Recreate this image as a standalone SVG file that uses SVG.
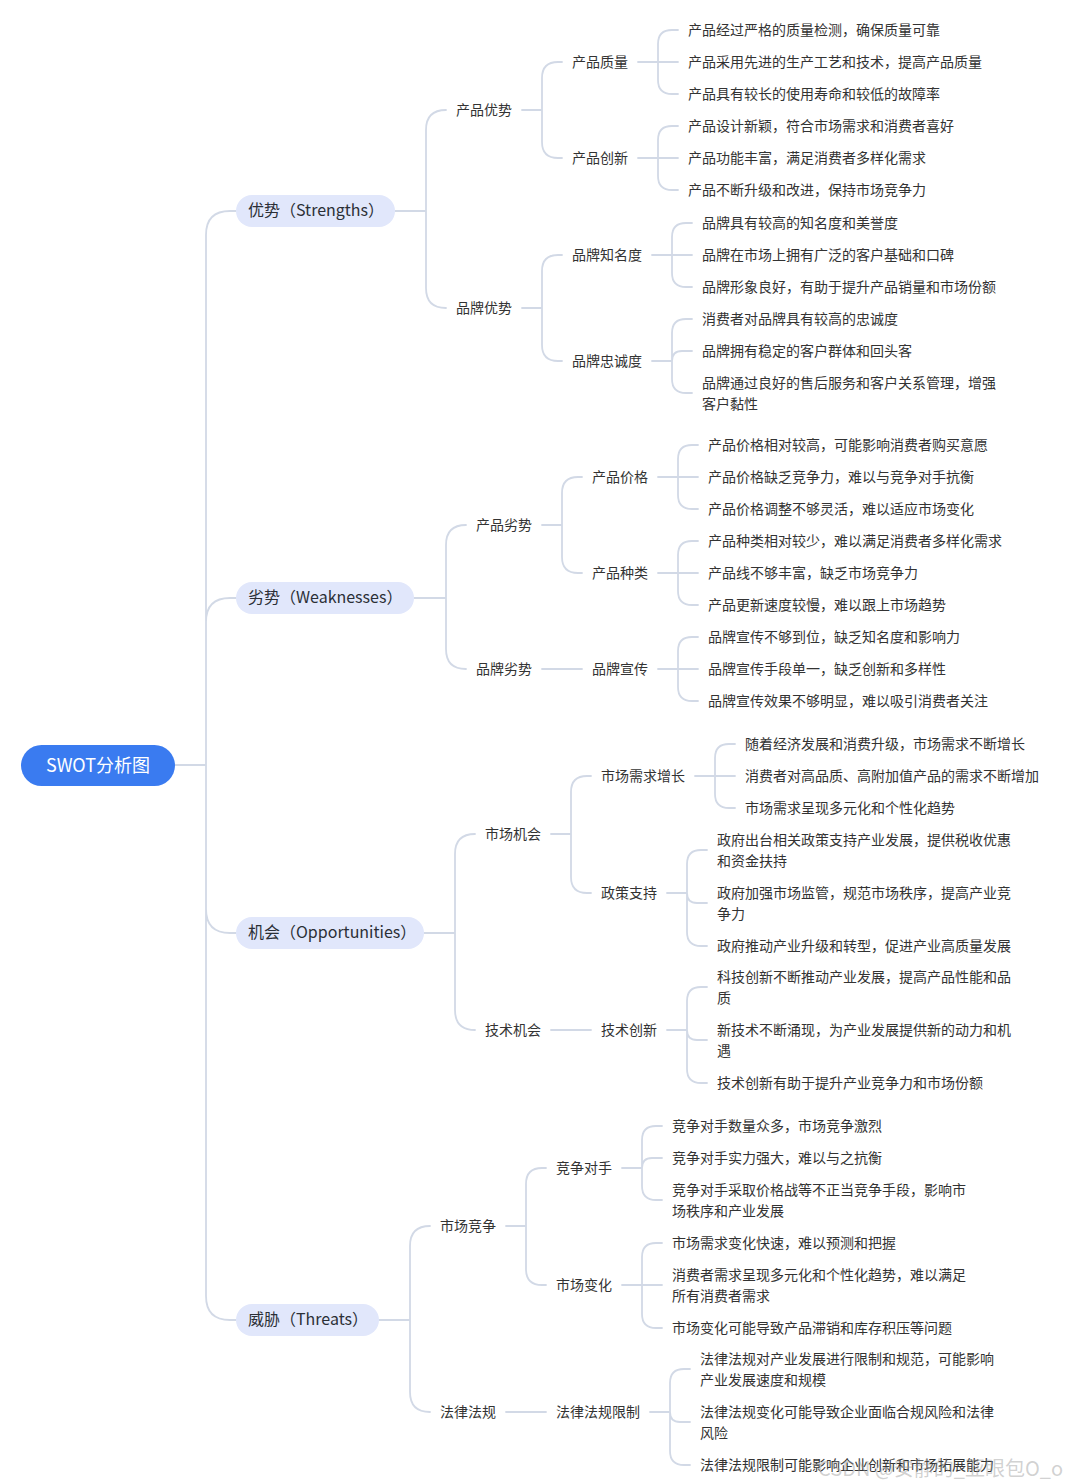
<svg xmlns="http://www.w3.org/2000/svg" width="1069" height="1484" viewBox="0 0 1069 1484">
<style>
text{font-family:"Noto Sans CJK SC","Noto Sans",sans-serif;dominant-baseline:central;fill:#333}
.t{font-size:14px}
.l1{font-size:16px;fill:#2b2f36}
.pill{fill:#e1e7fb}
.root{fill:#3a7bf0}
.rt{font-size:18px;fill:#fff;text-anchor:middle}
.c path{fill:none;stroke:#d2d9e6;stroke-width:1.8;stroke-linecap:round}
.wm{font-size:20px;fill:#999;fill-opacity:0.45}
</style>
<rect width="1069" height="1484" fill="#fff"/>
<g class="c" id="connectors">
<path d="M175 765H206M206 765V235Q206 211 230 211H236M206 765V622Q206 598 230 598H236M206 765V909Q206 933 230 933H236M206 765V1296Q206 1320 230 1320H236"/>
<path d="M395 211H426M426 211V130Q426 110 446 110M426 211V288Q426 308 446 308"/>
<path d="M522 110H542M542 110V78Q542 62 558 62H562M542 110V142Q542 158 558 158H562"/>
<path d="M638 62H658M658 62V44Q658 30 672 30H678M658 62H678M658 62V80Q658 94 672 94H678"/>
<path d="M638 158H658M658 158V140Q658 126 672 126H678M658 158H678M658 158V176Q658 190 672 190H678"/>
<path d="M522 308H542M542 308V271Q542 255 558 255H562M542 308V345Q542 361 558 361H562"/>
<path d="M652 255H672M672 255V237Q672 223 686 223H692M672 255H692M672 255V273Q672 287 686 287H692"/>
<path d="M652 361H672M672 361V333Q672 319 686 319H692M672 361Q672 351 682 351H692M672 361V379Q672 393 686 393H692"/>
<path d="M414 598H446M446 598V545Q446 525 466 525M446 598V649Q446 669 466 669"/>
<path d="M542 525H562M562 525V493Q562 477 578 477H582M562 525V557Q562 573 578 573H582"/>
<path d="M658 477H678M678 477V459Q678 445 692 445H698M678 477H698M678 477V495Q678 509 692 509H698"/>
<path d="M658 573H678M678 573V555Q678 541 692 541H698M678 573H698M678 573V591Q678 605 692 605H698"/>
<path d="M542 669H582"/>
<path d="M658 669H678M678 669V651Q678 637 692 637H698M678 669H698M678 669V687Q678 701 692 701H698"/>
<path d="M424 933H455M455 933V854Q455 834 475 834M455 933V1010Q455 1030 475 1030"/>
<path d="M551 834H571M571 834V792Q571 776 587 776H591M571 834V877Q571 893 587 893H591"/>
<path d="M695 776H715M715 776V758Q715 744 729 744H735M715 776H735M715 776V794Q715 808 729 808H735"/>
<path d="M667 893H687M687 893V864Q687 850 701 850H707M687 893Q687 903 697 903H707M687 893V932Q687 946 701 946H707"/>
<path d="M551 1030H591"/>
<path d="M667 1030H687M687 1030V1001Q687 987 701 987H707M687 1030Q687 1040 697 1040H707M687 1030V1069Q687 1083 701 1083H707"/>
<path d="M379 1320H410M410 1320V1246Q410 1226 430 1226M410 1320V1392Q410 1412 430 1412"/>
<path d="M506 1226H526M526 1226V1184Q526 1168 542 1168H546M526 1226V1269Q526 1285 542 1285H546"/>
<path d="M622 1168H642M642 1168V1140Q642 1126 656 1126H662M642 1168Q642 1158 652 1158H662M642 1168V1186Q642 1200 656 1200H662"/>
<path d="M622 1285H642M642 1285V1257Q642 1243 656 1243H662M642 1285H662M642 1285V1314Q642 1328 656 1328H662"/>
<path d="M506 1412H546"/>
<path d="M650 1412H670M670 1412V1383Q670 1369 684 1369H690M670 1412Q670 1422 680 1422H690M670 1412V1451Q670 1465 684 1465H690"/>
</g>
<g id="root"><rect class="root" x="21" y="745" width="154" height="41" rx="20.5"/><text class="rt" x="98" y="764">SWOT分析图</text></g>
<g id="strengths"><rect class="pill" x="236" y="195" width="159" height="32" rx="16"/><text class="l1" x="248" y="209">优势（Strengths）</text></g>
<g id="weaknesses"><rect class="pill" x="236" y="582" width="178" height="32" rx="16"/><text class="l1" x="248" y="596">劣势（Weaknesses）</text></g>
<g id="opportunities"><rect class="pill" x="236" y="917" width="188" height="32" rx="16"/><text class="l1" x="248" y="931">机会（Opportunities）</text></g>
<g id="threats"><rect class="pill" x="236" y="1304" width="143" height="32" rx="16"/><text class="l1" x="248" y="1318">威胁（Threats）</text></g>
<g id="s-nodes" transform="translate(0,-1)">
<text class="t" x="456" y="110">产品优势</text>
<text class="t" x="572" y="62">产品质量</text>
<text class="t" x="688" y="30">产品经过严格的质量检测，确保质量可靠</text>
<text class="t" x="688" y="62">产品采用先进的生产工艺和技术，提高产品质量</text>
<text class="t" x="688" y="94">产品具有较长的使用寿命和较低的故障率</text>
<text class="t" x="572" y="158">产品创新</text>
<text class="t" x="688" y="126">产品设计新颖，符合市场需求和消费者喜好</text>
<text class="t" x="688" y="158">产品功能丰富，满足消费者多样化需求</text>
<text class="t" x="688" y="190">产品不断升级和改进，保持市场竞争力</text>
<text class="t" x="456" y="308">品牌优势</text>
<text class="t" x="572" y="255">品牌知名度</text>
<text class="t" x="702" y="223">品牌具有较高的知名度和美誉度</text>
<text class="t" x="702" y="255">品牌在市场上拥有广泛的客户基础和口碑</text>
<text class="t" x="702" y="287">品牌形象良好，有助于提升产品销量和市场份额</text>
<text class="t" x="572" y="361">品牌忠诚度</text>
<text class="t" x="702" y="319">消费者对品牌具有较高的忠诚度</text>
<text class="t" x="702" y="351">品牌拥有稳定的客户群体和回头客</text>
<text class="t" x="702" y="383">品牌通过良好的售后服务和客户关系管理，增强</text>
<text class="t" x="702" y="404">客户黏性</text>
</g>
<g id="w-nodes" transform="translate(0,-1)">
<text class="t" x="476" y="525">产品劣势</text>
<text class="t" x="592" y="477">产品价格</text>
<text class="t" x="708" y="445">产品价格相对较高，可能影响消费者购买意愿</text>
<text class="t" x="708" y="477">产品价格缺乏竞争力，难以与竞争对手抗衡</text>
<text class="t" x="708" y="509">产品价格调整不够灵活，难以适应市场变化</text>
<text class="t" x="592" y="573">产品种类</text>
<text class="t" x="708" y="541">产品种类相对较少，难以满足消费者多样化需求</text>
<text class="t" x="708" y="573">产品线不够丰富，缺乏市场竞争力</text>
<text class="t" x="708" y="605">产品更新速度较慢，难以跟上市场趋势</text>
<text class="t" x="476" y="669">品牌劣势</text>
<text class="t" x="592" y="669">品牌宣传</text>
<text class="t" x="708" y="637">品牌宣传不够到位，缺乏知名度和影响力</text>
<text class="t" x="708" y="669">品牌宣传手段单一，缺乏创新和多样性</text>
<text class="t" x="708" y="701">品牌宣传效果不够明显，难以吸引消费者关注</text>
</g>
<g id="o-nodes" transform="translate(0,-1)">
<text class="t" x="485" y="834">市场机会</text>
<text class="t" x="601" y="776">市场需求增长</text>
<text class="t" x="745" y="744">随着经济发展和消费升级，市场需求不断增长</text>
<text class="t" x="745" y="776">消费者对高品质、高附加值产品的需求不断增加</text>
<text class="t" x="745" y="808">市场需求呈现多元化和个性化趋势</text>
<text class="t" x="601" y="893">政策支持</text>
<text class="t" x="717" y="840">政府出台相关政策支持产业发展，提供税收优惠</text>
<text class="t" x="717" y="861">和资金扶持</text>
<text class="t" x="717" y="893">政府加强市场监管，规范市场秩序，提高产业竞</text>
<text class="t" x="717" y="914">争力</text>
<text class="t" x="717" y="946">政府推动产业升级和转型，促进产业高质量发展</text>
<text class="t" x="485" y="1030">技术机会</text>
<text class="t" x="601" y="1030">技术创新</text>
<text class="t" x="717" y="977">科技创新不断推动产业发展，提高产品性能和品</text>
<text class="t" x="717" y="998">质</text>
<text class="t" x="717" y="1030">新技术不断涌现，为产业发展提供新的动力和机</text>
<text class="t" x="717" y="1051">遇</text>
<text class="t" x="717" y="1083">技术创新有助于提升产业竞争力和市场份额</text>
</g>
<g id="t-nodes" transform="translate(0,-1)">
<text class="t" x="440" y="1226">市场竞争</text>
<text class="t" x="556" y="1168">竞争对手</text>
<text class="t" x="672" y="1126">竞争对手数量众多，市场竞争激烈</text>
<text class="t" x="672" y="1158">竞争对手实力强大，难以与之抗衡</text>
<text class="t" x="672" y="1190">竞争对手采取价格战等不正当竞争手段，影响市</text>
<text class="t" x="672" y="1211">场秩序和产业发展</text>
<text class="t" x="556" y="1285">市场变化</text>
<text class="t" x="672" y="1243">市场需求变化快速，难以预测和把握</text>
<text class="t" x="672" y="1275">消费者需求呈现多元化和个性化趋势，难以满足</text>
<text class="t" x="672" y="1296">所有消费者需求</text>
<text class="t" x="672" y="1328">市场变化可能导致产品滞销和库存积压等问题</text>
<text class="t" x="440" y="1412">法律法规</text>
<text class="t" x="556" y="1412">法律法规限制</text>
<text class="t" x="700" y="1359">法律法规对产业发展进行限制和规范，可能影响</text>
<text class="t" x="700" y="1380">产业发展速度和规模</text>
<text class="t" x="700" y="1412">法律法规变化可能导致企业面临合规风险和法律</text>
<text class="t" x="700" y="1433">风险</text>
<text class="t" x="700" y="1465">法律法规限制可能影响企业创新和市场拓展能力</text>
</g>
<text class="wm" x="818" y="1467">CSDN @安静的_亚眼包O_o</text>
</svg>
